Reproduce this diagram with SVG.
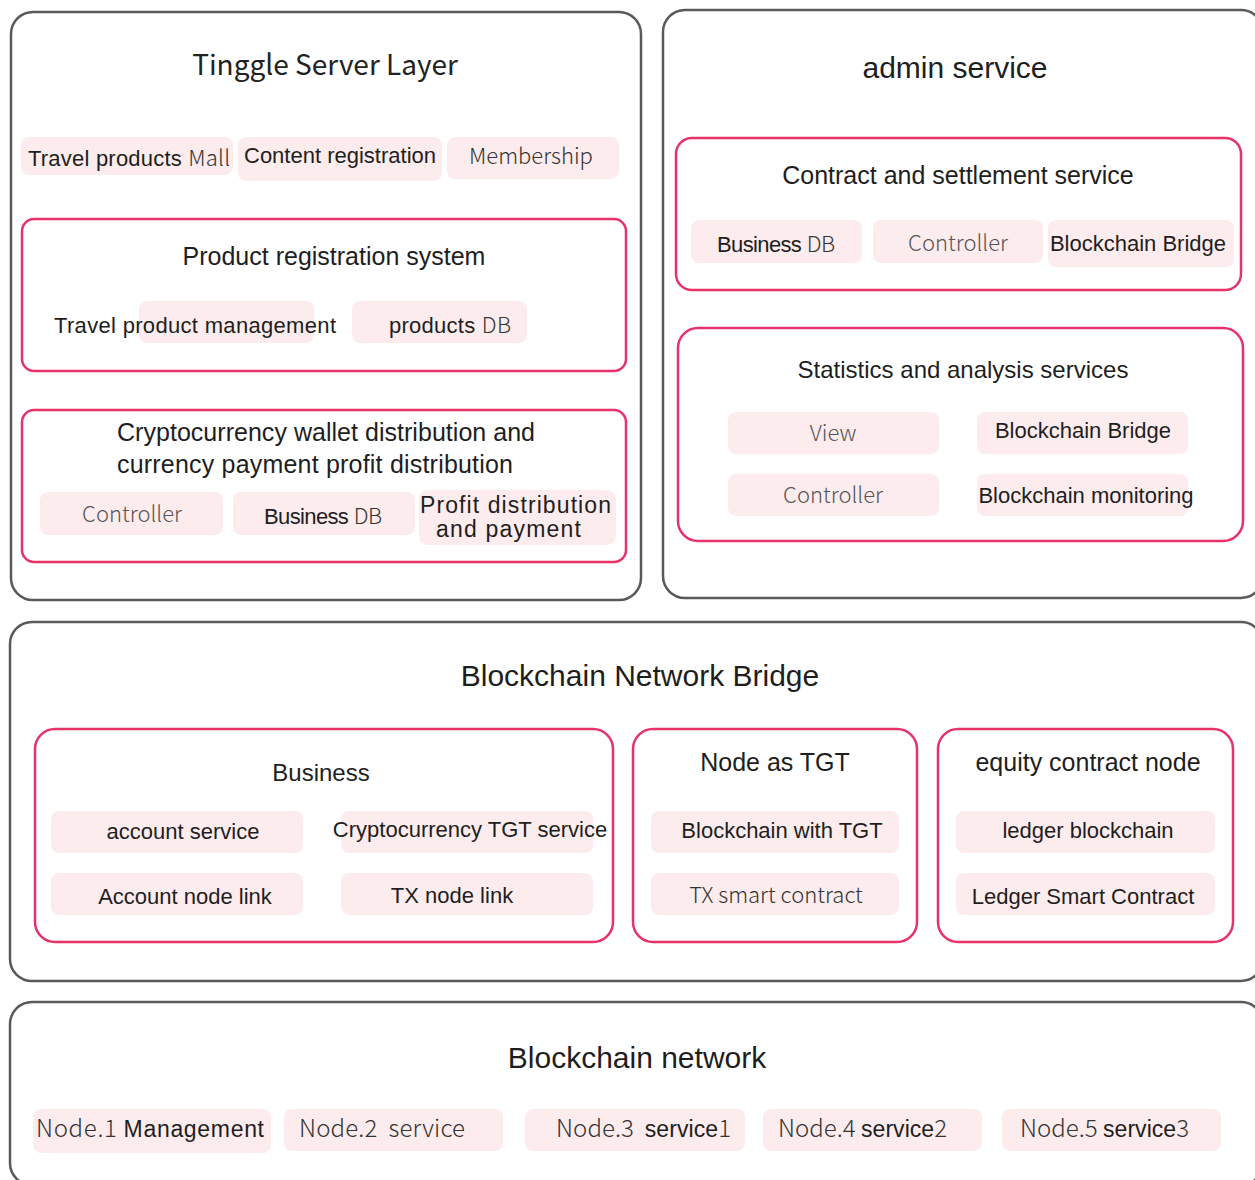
<svg xmlns="http://www.w3.org/2000/svg" width="1255" height="1180" viewBox="0 0 1255 1180">
<style>
.outer{fill:#fff;stroke:#595959;stroke-width:2.5}
.group{fill:#fff;stroke:#e8336a;stroke-width:2.5}
.chip{fill:#fdeced;stroke:none}
.a{font-family:"Liberation Sans",Arial,sans-serif;fill:#1e1e1e}
.n{font-family:"Noto Sans CJK JP","Noto Sans",sans-serif;font-weight:300;fill:#333}
.g{fill:#555}
.t28{font-size:28px}
.t30{font-size:30px}
.t25{font-size:25px}
.t24{font-size:24px}
.t22{font-size:22px}
.t21{font-size:21px}
.m{text-anchor:middle}
</style>

<g id="tinggle-server-layer">
<rect class="outer" x="11" y="12" width="630" height="588" rx="22"/>
<text class="n t28 m" x="325" y="75" style="fill:#222;font-weight:400">Tinggle Server Layer</text>
<rect class="chip" x="21" y="137" width="212" height="38" rx="8"/>
<text class="a t22" x="28" y="166" textLength="202"><tspan>Travel products </tspan><tspan class="n" style="fill:#333">Mall</tspan></text>
<rect class="chip" x="238" y="137" width="204" height="44" rx="8"/>
<text class="a t22 m" x="340" y="163">Content registration</text>
<rect class="chip" x="447" y="137" width="172" height="42" rx="8"/>
<text class="n t22 m" x="531" y="164">Membership</text>
</g>

<g id="product-registration-system">
<rect class="group" x="22" y="219" width="604" height="152" rx="12"/>
<text class="a t25 m" x="334" y="265">Product registration system</text>
<rect class="chip" x="139" y="301" width="175" height="42" rx="8"/>
<text class="a t22" x="54" y="333" textLength="282">Travel product management</text>
<rect class="chip" x="352" y="301" width="175" height="42" rx="8"/>
<text class="a t22" x="389" y="333" textLength="122"><tspan>products </tspan><tspan class="n" style="fill:#333">DB</tspan></text>
</g>

<g id="crypto-wallet-distribution">
<rect class="group" x="22" y="410" width="604" height="152" rx="12"/>
<text class="a t25" x="117" y="441" textLength="418">Cryptocurrency wallet distribution and</text>
<text class="a t25" x="117" y="473" textLength="396">currency payment profit distribution</text>
<rect class="chip" x="40" y="492" width="183" height="43" rx="8"/>
<text class="n t22 m g" x="132" y="522">Controller</text>
<rect class="chip" x="233" y="492" width="182" height="43" rx="8"/>
<text class="a t22" x="264" y="524" textLength="118"><tspan>Business </tspan><tspan class="n" style="fill:#333">DB</tspan></text>
<rect class="chip" x="419" y="490" width="197" height="55" rx="9"/>
<text class="a" style="font-size:23px" x="420" y="513" textLength="191">Profit distribution</text>
<text class="a" style="font-size:23px" x="436" y="537" textLength="145">and payment</text>
</g>

<g id="admin-service">
<rect class="outer" x="663" y="10" width="600" height="588" rx="22"/>
<text class="a t30 m" x="955" y="78">admin service</text>
</g>

<g id="contract-settlement-service">
<rect class="group" x="676" y="138" width="565" height="152" rx="16"/>
<text class="a t25 m" x="958" y="184">Contract and settlement service</text>
<rect class="chip" x="691" y="220" width="171" height="43" rx="8"/>
<text class="a t22" x="717" y="252" textLength="118"><tspan>Business </tspan><tspan class="n" style="fill:#333">DB</tspan></text>
<rect class="chip" x="873" y="220" width="170" height="43" rx="8"/>
<text class="n t22 m g" x="958" y="251">Controller</text>
<rect class="chip" x="1048" y="220" width="186" height="47" rx="8"/>
<text class="a t22 m" x="1138" y="251">Blockchain Bridge</text>
</g>

<g id="statistics-analysis-services">
<rect class="group" x="678" y="328" width="565" height="213" rx="20"/>
<text class="a t24 m" x="963" y="378">Statistics and analysis services</text>
<rect class="chip" x="728" y="412" width="211" height="42" rx="8"/>
<text class="n t22 m g" x="833" y="441">View</text>
<rect class="chip" x="977" y="412" width="211" height="42" rx="8"/>
<text class="a t22 m" x="1083" y="438">Blockchain Bridge</text>
<rect class="chip" x="728" y="474" width="211" height="42" rx="8"/>
<text class="n t22 m g" x="833" y="503">Controller</text>
<rect class="chip" x="977" y="474" width="211" height="42" rx="8"/>
<text class="a t22 m" x="1086" y="503">Blockchain monitoring</text>
</g>

<g id="blockchain-network-bridge">
<rect class="outer" x="10" y="622" width="1253" height="359" rx="22"/>
<text class="a t30 m" x="640" y="686">Blockchain Network Bridge</text>
</g>

<g id="business">
<rect class="group" x="35" y="729" width="578" height="213" rx="20"/>
<text class="a t24 m" x="321" y="781">Business</text>
<rect class="chip" x="51" y="811" width="252" height="42" rx="8"/>
<text class="a t22 m" x="183" y="839">account service</text>
<rect class="chip" x="341" y="811" width="252" height="42" rx="8"/>
<text class="a t22 m" x="470" y="837">Cryptocurrency TGT service</text>
<rect class="chip" x="51" y="873" width="252" height="42" rx="8"/>
<text class="a t22 m" x="185" y="904">Account node link</text>
<rect class="chip" x="341" y="873" width="252" height="42" rx="8"/>
<text class="a t22 m" x="452" y="903">TX node link</text>
</g>

<g id="node-as-tgt">
<rect class="group" x="633" y="729" width="284" height="213" rx="20"/>
<text class="a t25 m" x="775" y="771">Node as TGT</text>
<rect class="chip" x="651" y="811" width="248" height="42" rx="8"/>
<text class="a t22 m" x="782" y="838">Blockchain with TGT</text>
<rect class="chip" x="651" y="873" width="248" height="42" rx="8"/>
<text class="n t22 m" x="776" y="903">TX smart contract</text>
</g>

<g id="equity-contract-node">
<rect class="group" x="938" y="729" width="295" height="213" rx="20"/>
<text class="a t25 m" x="1088" y="771">equity contract node</text>
<rect class="chip" x="956" y="811" width="259" height="42" rx="8"/>
<text class="a t22 m" x="1088" y="838">ledger blockchain</text>
<rect class="chip" x="956" y="873" width="259" height="42" rx="8"/>
<text class="a t22 m" x="1083" y="904">Ledger Smart Contract</text>
</g>

<g id="blockchain-network">
<rect class="outer" x="10" y="1002" width="1253" height="183" rx="22"/>
<text class="a t30 m" x="637" y="1068">Blockchain network</text>
</g>

<g id="node-1">
<rect class="chip" x="33" y="1109" width="238" height="44" rx="8"/>
<text class="n t24" x="36" y="1137" textLength="228"><tspan>Node.1 </tspan><tspan class="a" style="font-size:23px">Management</tspan></text>
</g>
<g id="node-2">
<rect class="chip" x="284" y="1109" width="219" height="42" rx="8"/>
<text class="n t24" x="299" y="1137" xml:space="preserve" textLength="166">Node.2  service</text>
</g>
<g id="node-3">
<rect class="chip" x="525" y="1109" width="220" height="42" rx="8"/>
<text class="n t24" x="556" y="1137" xml:space="preserve" textLength="175"><tspan>Node.3  </tspan><tspan class="a" style="font-size:23px">service</tspan><tspan>1</tspan></text>
</g>
<g id="node-4">
<rect class="chip" x="763" y="1109" width="219" height="42" rx="8"/>
<text class="n t24" x="778" y="1137" xml:space="preserve" textLength="169"><tspan>Node.4 </tspan><tspan class="a" style="font-size:23px">service</tspan><tspan>2</tspan></text>
</g>
<g id="node-5">
<rect class="chip" x="1002" y="1109" width="219" height="42" rx="8"/>
<text class="n t24" x="1020" y="1137" xml:space="preserve" textLength="169"><tspan>Node.5 </tspan><tspan class="a" style="font-size:23px">service</tspan><tspan>3</tspan></text>
</g>

<g id="connectors"></g>
</svg>
